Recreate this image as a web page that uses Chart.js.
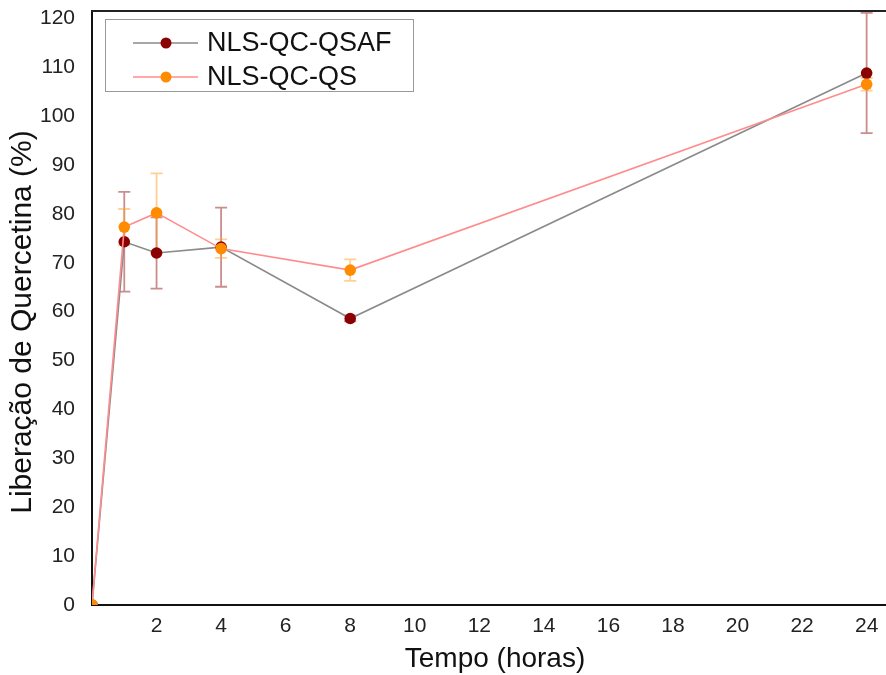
<!DOCTYPE html>
<html>
<head>
<meta charset="utf-8">
<script src="https://cdn.jsdelivr.net/npm/chart.js@4/dist/chart.umd.min.js"></script>
<style>
  html, body { margin: 0; padding: 0; background: #fff; overflow: hidden; }
  canvas { display: block; }
</style>
</head>
<body>
<canvas id="release" width="886" height="675"></canvas>
<script>
// sampling times (hours)
const hours = [0, 1, 2, 4, 8, 24];
// release of quercetin (%) and standard deviations
const qsafValues = [0, 74.3, 72.0, 73.2, 58.6, 108.8];
const qsafErrors = [0, 10.2, 7.3, 8.1, 0.6, 12.3];
const qsValues = [0, 77.3, 80.2, 72.9, 68.5, 106.5];
const qsErrors = [0, 3.7, 8.1, 1.9, 2.2, 1.3];
// axis ticks
const xTicks = [2, 4, 6, 8, 10, 12, 14, 16, 18, 20, 22, 24];
const yTicks = [0, 10, 20, 30, 40, 50, 60, 70, 80, 90, 100, 110, 120];

const seriesNames = ['NLS-QC-QSAF', 'NLS-QC-QS'];
const pointColors = ['#8b0000', '#ff8c00'];
const lineColors = ['#8a8a8a', '#ff8c8c'];
const barColors = ['rgba(139,0,0,0.45)', 'rgba(255,160,40,0.5)'];
const errorSets = [qsafErrors, qsErrors];

const toPoints = vals => hours.map((h, i) => ({ x: h, y: vals[i] }));

// vertical error bars with caps, drawn under the markers
const errorBars = {
  id: 'errorBars',
  beforeDatasetsDraw(chart) {
    const { ctx, scales: { x, y } } = chart;
    chart.data.datasets.forEach((ds, d) => {
      const errs = errorSets[d];
      ctx.save();
      ctx.strokeStyle = barColors[d];
      ctx.lineWidth = 1.8;
      ds.data.forEach((p, i) => {
        if (!errs[i]) return;
        const px = x.getPixelForValue(p.x);
        const top = y.getPixelForValue(p.y + errs[i]);
        const bot = y.getPixelForValue(p.y - errs[i]);
        ctx.beginPath();
        ctx.moveTo(px, top); ctx.lineTo(px, bot);
        ctx.moveTo(px - 6, top); ctx.lineTo(px + 6, top);
        ctx.moveTo(px - 6, bot); ctx.lineTo(px + 6, bot);
        ctx.stroke();
      });
      ctx.restore();
    });
  }
};

// top frame line, axis titles and the boxed legend
const decorations = {
  id: 'decorations',
  afterDraw(chart) {
    const { ctx, chartArea } = chart;
    ctx.save();
    ctx.strokeStyle = '#222';
    ctx.lineWidth = 2;
    ctx.beginPath();
    ctx.moveTo(chartArea.left - 1, chartArea.top);
    ctx.lineTo(chartArea.right, chartArea.top);
    ctx.stroke();

    ctx.fillStyle = '#111';
    ctx.textAlign = 'center';
    ctx.textBaseline = 'middle';
    ctx.font = '28px "Liberation Sans", Arial, sans-serif';
    ctx.fillText('Tempo (horas)', 495, 659);

    ctx.save();
    ctx.translate(23, 322);
    ctx.rotate(-Math.PI / 2);
    ctx.font = '30px "Liberation Sans", Arial, sans-serif';
    ctx.fillText('Liberação de Quercetina (%)', 0, 0);
    ctx.restore();

    // legend box
    ctx.fillStyle = '#fff';
    ctx.fillRect(105, 19, 308, 72);
    ctx.strokeStyle = '#999';
    ctx.lineWidth = 1;
    ctx.strokeRect(105.5, 19.5, 308, 72);
    const rows = [43, 77];
    seriesNames.forEach((name, i) => {
      const ly = rows[i];
      ctx.strokeStyle = lineColors[i];
      ctx.lineWidth = 1.5;
      ctx.beginPath();
      ctx.moveTo(133, ly); ctx.lineTo(198, ly);
      ctx.stroke();
      ctx.fillStyle = pointColors[i];
      ctx.beginPath();
      ctx.arc(166, ly, 5.5, 0, Math.PI * 2);
      ctx.fill();
      ctx.fillStyle = '#111';
      ctx.textAlign = 'left';
      ctx.font = '27px "Liberation Sans", Arial, sans-serif';
      ctx.fillText(name, 207, ly + 1);
    });
    ctx.restore();
  }
};

const tickFont = { family: '"Liberation Sans", Arial, sans-serif', size: 21 };

new Chart(document.getElementById('release'), {
  type: 'line',
  data: {
    datasets: [
      {
        label: seriesNames[0],
        data: toPoints(qsafValues),
        borderColor: lineColors[0],
        borderWidth: 1.6,
        pointBackgroundColor: pointColors[0],
        pointBorderColor: pointColors[0],
        pointRadius: 5.8,
        pointBorderWidth: 0,
        tension: 0,
        clip: 0,
        order: 2
      },
      {
        label: seriesNames[1],
        data: toPoints(qsValues),
        borderColor: lineColors[1],
        borderWidth: 1.6,
        pointBackgroundColor: pointColors[1],
        pointBorderColor: pointColors[1],
        pointRadius: 5.8,
        pointBorderWidth: 0,
        tension: 0,
        clip: 0,
        order: 1
      }
    ]
  },
  options: {
    responsive: false,
    animation: false,
    layout: { autoPadding: false, padding: { top: 11, right: 0, left: 0, bottom: 0 } },
    plugins: { legend: { display: false }, tooltip: { enabled: false } },
    scales: {
      x: {
        type: 'linear',
        min: 0,
        max: 24.6,
        afterBuildTicks: s => { s.ticks = xTicks.map(v => ({ value: v })); },
        afterFit: s => { s.height = 70; s.paddingLeft = 0; s.paddingRight = 0; },
        grid: { display: false, drawTicks: false },
        border: { color: '#111', width: 2 },
        ticks: { color: '#222', font: tickFont, padding: 9, maxRotation: 0 }
      },
      y: {
        min: 0,
        max: 121.5,
        afterBuildTicks: s => { s.ticks = yTicks.map(v => ({ value: v })); },
        afterFit: s => { s.width = 92; s.paddingTop = 0; s.paddingBottom = 0; },
        grid: { display: false, drawTicks: false },
        border: { color: '#111', width: 2 },
        ticks: { color: '#222', font: tickFont, padding: 17 }
      }
    }
  },
  plugins: [errorBars, decorations]
});
</script>
</body>
</html>
